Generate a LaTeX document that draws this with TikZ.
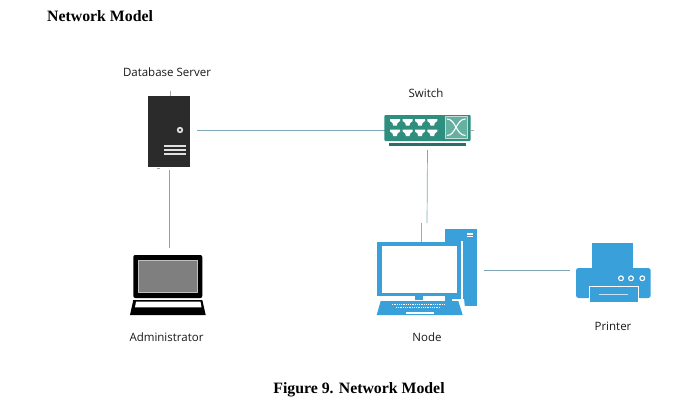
\documentclass[tikz,border=0pt]{standalone}
\usepackage{fontspec}
\setmainfont{Liberation Serif}
\setsansfont{Open Sans}
\usepackage{pgf,tikz}
\definecolor{linkblue}{HTML}{7FA6B5}
\definecolor{stubgray}{HTML}{A8A8A8}
\definecolor{serverblack}{HTML}{2B2B2B}
\definecolor{switchgreen}{HTML}{2F8F7E}
\definecolor{switchdark}{HTML}{2B6F68}
\definecolor{switchpale}{HTML}{66B0A2}
\definecolor{nodeblue}{HTML}{3AA0DA}
\definecolor{screengray}{HTML}{7F7F7F}
\tikzset{
  iconbox/.style={inner sep=0pt,outer sep=0pt},
  link/.style={draw=linkblue,line width=0.7pt},
  stub/.style={draw=stubgray,line width=0.9pt},
  caption/.style={font=\rmfamily\bfseries\fontsize{15.8}{18}\selectfont,inner sep=0pt},
  devlabel/.style={font=\sffamily\fontsize{11.5}{14}\selectfont,text=black!90,inner sep=0pt}
}
\newcommand{\swport}[2]{\fill[white] (#1-5,#2-3) -- (#1+5,#2-3) -- (#1+5,#2-1) -- (#1+2.5,#2+1) -- (#1+1.8,#2+3.5) -- (#1-1.8,#2+3.5) -- (#1-2.5,#2+1) -- (#1-5,#2-1) -- cycle;}
\begin{document}
\begin{tikzpicture}[x=1pt,y=-1pt,line cap=butt,line join=round]
\useasboundingbox (0,0) rectangle (690,407);
\node[caption,anchor=west] (heading) at (47,16) {Network Model};
\node[caption] (figcaption) at (359,390) {Figure 9. Network Model};
% device places
\node[iconbox,minimum width=42pt,minimum height=70pt] (server) at (169,130.5) {};
\node[iconbox,minimum width=86pt,minimum height=31pt] (switch) at (427.5,130.5) {};
\node[iconbox,minimum width=78pt,minimum height=60pt] (laptop) at (169,285) {};
\node[iconbox,minimum width=100pt,minimum height=90pt] (pc) at (427,270) {};
\node[iconbox,minimum width=75pt,minimum height=55pt] (printer) at (613.5,270) {};
% labels
\node[devlabel] (serverlabel) at (167,72.5) {Database Server};
\node[devlabel] (switchlabel) at (426,93) {Switch};
\node[devlabel] (laptoplabel) at (166.5,337) {Administrator};
\node[devlabel] (pclabel) at (427,337) {Node};
\node[devlabel] (printerlabel) at (613,326.5) {Printer};
% links
\draw[link,shorten <=7pt] (server.east) -- (switch.west);
\draw[link,shorten <=4.5pt,shorten >=7pt] (server.south) -- (laptop.north);
\draw[link,shorten <=4pt,shorten >=2pt] (switch.south) -- (pc.north);
\draw[link,shorten <=7pt,shorten >=6pt] (pc.east) -- (printer.west);
% server
\fill[serverblack] (148,96) rectangle (190,166.5);
\draw[stub] (170.7,91) -- (170.7,96);
\draw[stubgray,line width=0.6pt] (157,168.3) -- (160,168.3);
\fill[white!88!black] (180,130) circle (3.2);
\fill[serverblack] (180,130) circle (1.3);
\fill[white!88!black] (163.5,145.2) rectangle (186,147);
\fill[white!88!black] (163.5,149.2) rectangle (186,151);
\fill[white!88!black] (163.5,153.2) rectangle (186,155);
% switch
\fill[switchgreen,rounded corners=1pt] (384.3,115) rectangle (470.7,141);
\draw[switchdark,line width=2.2pt] (389,144.5) -- (466,144.5);
\draw[stub] (470.7,130) -- (474,130);
\swport{395}{122}
\swport{407.7}{122}
\swport{420}{122}
\swport{432.3}{122}
\swport{395}{132.5}
\swport{407.7}{132.5}
\swport{420}{132.5}
\swport{432.3}{132.5}
\draw[white!70!switchgreen,fill=switchpale,line width=0.7pt] (445,116.5) rectangle (467.5,138);
\draw[white,line width=1.1pt] (447,119) .. controls (456,119) and (456,135.5) .. (465.5,135.5);
\draw[white,line width=1.1pt] (447,135.5) .. controls (456,135.5) and (456,119) .. (465.5,119);
% administrator laptop
\fill[black,rounded corners=2pt] (133.3,255) rectangle (202.3,298);
\draw[white!75!black,fill=screengray,line width=0.7pt] (138.3,260) rectangle (197.7,292.7);
\fill[black] (133.3,300) -- (202.3,300) -- (205.7,315) -- (130,315) -- cycle;
\fill[white] (136,301.7) -- (200.5,301.7) -- (201.5,307.3) -- (135,307.3) -- cycle;
% node computer
\fill[nodeblue] (445,229.3) rectangle (476.7,306);
\fill[white] (466.7,233.3) rectangle (473,234.6);
\fill[white] (466.7,236) rectangle (473,237.3);
\fill[white] (461,241) rectangle (462.5,300);
\draw[stub] (421.7,223) -- (421.7,242.3);
\fill[nodeblue] (377.3,242.3) rectangle (461,296);
\fill[white] (381.7,246) rectangle (457,293);
\fill[nodeblue] (415,296) rectangle (423.3,300);
\fill[nodeblue] (445,296) rectangle (455,300);
\fill[white] (452,299) -- (464,299) -- (466,317) -- (452,317) -- cycle;
\fill[nodeblue] (380.7,301) -- (458.3,301) -- (462.7,315) -- (376.7,315) -- cycle;
\draw[white,line width=1pt,dash pattern=on 1pt off 0.8pt] (391.7,304) -- (445,304);
\draw[white,line width=1pt,dash pattern=on 1pt off 0.8pt] (396,307.5) -- (440,307.5);
\fill[white] (406,311.7) rectangle (434,314.3);
% printer
\fill[nodeblue] (592.3,242.7) rectangle (633.3,268);
\fill[nodeblue,rounded corners=2.5pt] (576,268) rectangle (650.7,298);
\draw[white,fill=nodeblue,line width=0.9pt] (589,286.7) rectangle (638.3,302.7);
\draw[white!70!nodeblue,line width=0.7pt] (599,294.3) -- (627.7,294.3);
\draw[white,fill=nodeblue,line width=1.1pt] (621,278.3) circle (2.4);
\draw[white,fill=nodeblue,line width=1.1pt] (631,278.3) circle (2.4);
\draw[white,fill=nodeblue,line width=1.1pt] (642.3,278.3) circle (2.4);
\end{tikzpicture}
\end{document}
